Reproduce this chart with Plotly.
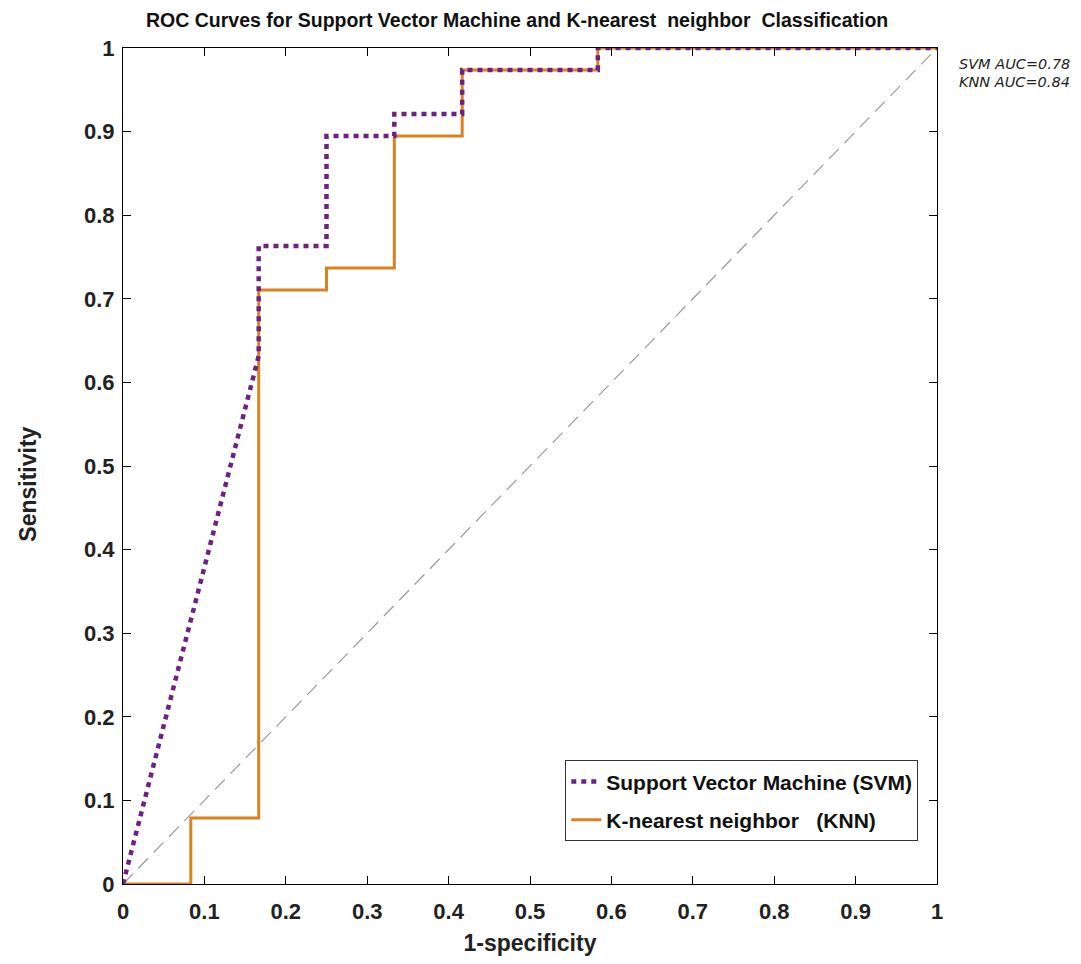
import plotly.graph_objects as go

# Data (1-specificity, sensitivity)
svm_fpr = [0, 0.1667, 0.1667, 0.25, 0.25, 0.3333, 0.3333, 0.4167, 0.4167, 0.5833, 0.5833, 1.0]
svm_tpr = [0, 0.6316, 0.7632, 0.7632, 0.8947, 0.8947, 0.9211, 0.9211, 0.9737, 0.9737, 1.0, 1.0]

knn_fpr = [0, 0.0833, 0.0833, 0.1667, 0.1667, 0.25, 0.25, 0.3333, 0.3333, 0.4167, 0.4167, 0.5833, 0.5833, 1.0]
knn_tpr = [0, 0, 0.0789, 0.0789, 0.7105, 0.7105, 0.7368, 0.7368, 0.8947, 0.8947, 0.9737, 0.9737, 1.0, 1.0]

diag = [0, 1]
ticks = [0, 0.1, 0.2, 0.3, 0.4, 0.5, 0.6, 0.7, 0.8, 0.9, 1]
tick_text = ["0", "0.1", "0.2", "0.3", "0.4", "0.5", "0.6", "0.7", "0.8", "0.9", "1"]
auc_labels = ["SVM AUC=0.78", "KNN AUC=0.84"]

FONT = "Liberation Sans, Arial"

fig = go.Figure()
fig.add_trace(go.Scatter(x=diag, y=diag, mode="lines", showlegend=False,
                         line=dict(color="#9a9a9a", width=1.2, dash="14px,8px")))
fig.add_trace(go.Scatter(x=knn_fpr, y=knn_tpr, mode="lines", name="K-nearest neighbor   (KNN)",
                         legendgroup="knn", legendrank=2, line=dict(color="#D9821E", width=3)))
fig.add_trace(go.Scatter(x=svm_fpr, y=svm_tpr, mode="lines", name="Support Vector Machine (SVM)",
                         legendgroup="svm", legendrank=1,
                         line=dict(color="#6E2183", width=4.5, dash="5px,5px")))

axis_common = dict(range=[0, 1], tickvals=ticks, ticktext=tick_text, showgrid=False, zeroline=False,
                   showline=True, linecolor="black", linewidth=1, mirror="ticks",
                   ticks="inside", ticklen=8, tickcolor="black",
                   tickfont=dict(family=FONT, size=22, color="#222", weight="bold"))

fig.update_layout(
    width=1073, height=956,
    margin=dict(l=115, r=144, t=40, b=74),
    plot_bgcolor="white", paper_bgcolor="white",
    title=dict(text="ROC Curves for Support Vector Machine and K-nearest  neighbor  Classification",
               x=0.4745, xanchor="center", y=0.9875, yanchor="middle",
               font=dict(family=FONT, size=19.5, color="#111", weight="bold")),
    xaxis=dict(**axis_common, ticklabelstandoff=8,
               title=dict(text="1-specificity", standoff=11,
                          font=dict(family=FONT, size=23, color="#222", weight="bold"))),
    yaxis=dict(**axis_common, ticklabelstandoff=3),
    legend=dict(x=0.977, xanchor="right", y=0.051, yanchor="bottom",
                bgcolor="white", bordercolor="#333", borderwidth=1,
                traceorder="grouped", tracegroupgap=8,
                font=dict(family=FONT, size=21, color="#111", weight="bold")),
    showlegend=True,
)

# y-axis title (placed slightly below the centre, as in the reference)
fig.add_annotation(x=-0.117, y=0.4786, xref="paper", yref="paper", xanchor="center", yanchor="middle",
                   text="Sensitivity", textangle=-90, showarrow=False,
                   font=dict(family=FONT, size=23, color="#222", weight="bold"))

for i, lab in enumerate(auc_labels):
    fig.add_annotation(x=1.024, y=0.981 - i * 0.0215, xref="paper", yref="paper",
                       xanchor="left", yanchor="middle", text="<i>" + lab + "</i>",
                       showarrow=False, align="left",
                       font=dict(family="DejaVu Sans", size=14.5, color="#222"))

fig.write_html("out.html")
